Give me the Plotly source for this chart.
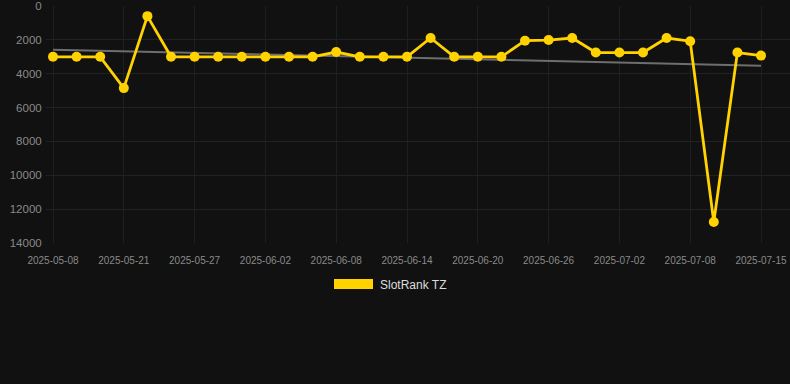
import numpy as np
import plotly.graph_objects as go

dates = ["2025-05-08", "2025-05-12", "2025-05-16", "2025-05-21", "2025-05-23", "2025-05-25",
         "2025-05-27", "2025-05-29", "2025-05-31", "2025-06-02", "2025-06-04", "2025-06-06",
         "2025-06-08", "2025-06-10", "2025-06-12", "2025-06-14", "2025-06-16", "2025-06-18",
         "2025-06-20", "2025-06-22", "2025-06-24", "2025-06-26", "2025-06-28", "2025-06-30",
         "2025-07-02", "2025-07-04", "2025-07-06", "2025-07-08", "2025-07-10", "2025-07-12",
         "2025-07-15"]
ranks = [3000, 3000, 3000, 4850, 600, 3000,
         3000, 3000, 3000, 3000, 3000, 3000,
         2720, 3000, 3000, 3000, 1890, 3000,
         3000, 3000, 2050, 2010, 1890, 2750,
         2750, 2750, 1890, 2080, 12760, 2750,
         2930]
tick_labels = dates[::3]
y_ticks = [0, 2000, 4000, 6000, 8000, 10000, 12000, 14000]
series_name = "SlotRank TZ"

idx = np.arange(len(ranks))
slope, intercept = np.polyfit(idx, ranks, 1)
trend = slope * idx + intercept

fig = go.Figure()
fig.add_trace(go.Scatter(x=dates, y=trend, mode="lines",
                         line=dict(color="#6e6e6e", width=2),
                         hoverinfo="skip", showlegend=False))
fig.add_trace(go.Scatter(x=dates, y=ranks, mode="lines+markers", name=series_name,
                         line=dict(color="#FFD200", width=2.8),
                         marker=dict(color="#FFD200", size=10),
                         cliponaxis=False, showlegend=False))

L, R = 46, 0
plot_w = 790 - L - R
step = (761 - 53) / (len(dates) - 1)
x_lo = -(53 - L) / step
x_hi = (len(dates) - 1) + (790 - R - 761) / step

fig.update_layout(
    width=790, height=384,
    paper_bgcolor="#111111", plot_bgcolor="#111111",
    margin=dict(l=L, r=R, t=6, b=141),
    font=dict(family="Liberation Sans, Arial, sans-serif", color="#8a8a8a"),
    showlegend=False,
    xaxis=dict(type="category", range=[x_lo, x_hi], automargin=False,
               tickmode="array", tickvals=tick_labels, ticktext=tick_labels,
               showgrid=True, gridcolor="#1f1f1f", gridwidth=1,
               zeroline=False, showline=False, ticks="outside", ticklen=8,
               tickcolor="rgba(0,0,0,0)",
               tickfont=dict(size=10, color="#8a8a8a"), tickangle=0),
    yaxis=dict(range=[14000, 0], tickmode="array", tickvals=y_ticks, automargin=False,
               ticktext=[str(v) for v in y_ticks],
               showgrid=True, gridcolor="#222222", gridwidth=1,
               zeroline=False, showline=False, ticks="outside", ticklen=1,
               tickcolor="rgba(0,0,0,0)",
               tickfont=dict(size=11.5, color="#8a8a8a")),
)

def px_x(p):
    return (p - L) / plot_w

def px_y(p):
    return (243 - p) / 237

# legend drawn as a swatch + text
fig.add_shape(type="rect", xref="paper", yref="paper",
              x0=px_x(334), x1=px_x(373), y0=px_y(289), y1=px_y(279),
              fillcolor="#FFD200", line=dict(width=0))
fig.add_annotation(xref="paper", yref="paper", x=px_x(378), y=px_y(284.5),
                   text=series_name, showarrow=False, xanchor="left", yanchor="middle",
                   font=dict(size=12, color="#dddddd"))

fig.write_html("out.html", config={"displayModeBar": False},
               post_script="document.body.style.margin='0';document.body.style.background='#111111';")
